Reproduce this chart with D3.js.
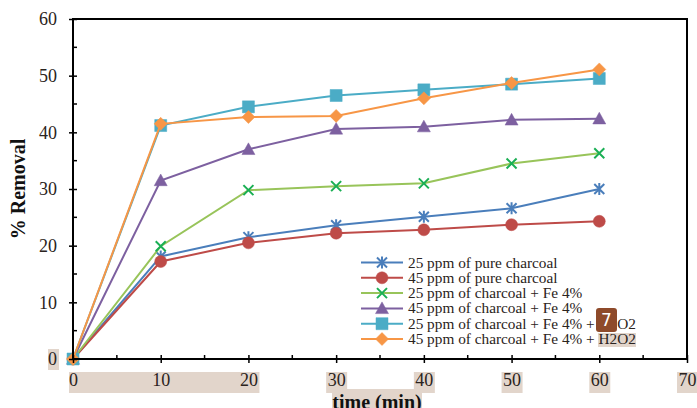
<!DOCTYPE html>
<html>
<head>
<meta charset="utf-8">
<script src="https://cdn.jsdelivr.net/npm/d3@7"></script>
<style>
  body { margin: 0; background: #fff; }
  svg { display: block; font-family: "Liberation Serif", "Times New Roman", serif; }
</style>
</head>
<body>
<svg id="chart" width="697" height="408"></svg>
<script>
// time points (min)
var times = [0, 10, 20, 30, 40, 50, 60];

// % removal
var pure25 = [0, 18.1, 21.5, 23.6, 25.1, 26.6, 30.0];
var pure45 = [0, 17.2, 20.5, 22.2, 22.8, 23.7, 24.3];
var fe25 = [0, 19.9, 29.8, 30.5, 31.0, 34.5, 36.3];
var fe45 = [0, 31.5, 37.0, 40.6, 41.0, 42.2, 42.4];
var feH25 = [0, 41.2, 44.5, 46.5, 47.5, 48.5, 49.5];
var feH45 = [0, 41.5, 42.7, 42.9, 46.0, 48.7, 51.1];

var seriesNames = [
  '25 ppm of pure charcoal',
  '45 ppm of pure charcoal',
  '25 ppm of charcoal + Fe 4%',
  '45 ppm of charcoal + Fe 4%',
  '25 ppm of charcoal + Fe 4% + H2O2',
  '45 ppm of charcoal + Fe 4% + H2O2'
];
var xTicks = [0, 10, 20, 30, 40, 50, 60, 70];
var yTicks = [0, 10, 20, 30, 40, 50, 60];

var lineColors = ['#4a7ebb', '#be4b48', '#98c45a', '#7d60a0', '#4bacc6', '#f79646'];
var markColors = ['#4a7ebb', '#be4b48', '#1aaf54', '#7d60a0', '#4bacc6', '#f79646'];
var markers = ['star', 'circle', 'x', 'triangle', 'square', 'diamond'];

var allValues = [pure25, pure45, fe25, fe45, feH25, feH45];
var series = seriesNames.map(function(name, i) {
  return {name: name, values: allValues[i], line: lineColors[i], mark: markColors[i], marker: markers[i]};
});

var svg = d3.select('#chart');
var plotL = 73, plotR = 687, plotT = 19, plotB = 359;

var x = d3.scaleLinear().domain([0, 70]).range([plotL, plotR]);
var y = d3.scaleLinear().domain([0, 60]).range([plotB, plotT]);

// highlight boxes seen behind some labels
var hl = '#e2d5cb';
function box(x0, y0, x1, y1) {
  svg.append('rect').attr('x', x0).attr('y', y0)
    .attr('width', x1 - x0).attr('height', y1 - y0).attr('fill', hl);
}
box(48, 349, 59, 370);
box(x(0) - 4, 372, x(20) + 11, 393);
[30, 40, 50, 60, 70].forEach(function(t) { box(x(t) - 10, 372, x(t) + 11, 393); });
box(332, 389, 422, 408);

function markerPath(type, s) {
  var h = s / 2;
  switch (type) {
  case 'circle':
    return d3.symbol().type(d3.symbolCircle).size(Math.PI * h * h)();
  case 'square':
    return 'M' + -h + ',' + -h + 'H' + h + 'V' + h + 'H' + -h + 'Z';
  case 'diamond':
    return 'M0,' + -h + 'L' + h + ',0L0,' + h + 'L' + -h + ',0Z';
  case 'triangle':
    return 'M0,' + (-h) + 'L' + h + ',' + (h * 0.8) + 'L' + -h + ',' + (h * 0.8) + 'Z';
  case 'x':
    return 'M' + -h + ',' + -h + 'L' + h + ',' + h + 'M' + h + ',' + -h + 'L' + -h + ',' + h;
  case 'star':
    return 'M' + -h + ',' + -h + 'L' + h + ',' + h + 'M' + h + ',' + -h + 'L' + -h + ',' + h +
      'M0,' + -h * 1.2 + 'V' + h * 1.2;
  }
}
var markerSize = {circle: 12, square: 12, diamond: 13, triangle: 13, x: 10, star: 10};

function drawMarker(g, type, color) {
  var p = g.append('path').attr('d', markerPath(type, markerSize[type]));
  if (type === 'x' || type === 'star') {
    p.attr('fill', 'none').attr('stroke', color).attr('stroke-width', 2);
  } else {
    p.attr('fill', color).attr('stroke', color).attr('stroke-width', 0.5);
  }
}

var line = d3.line()
  .x(function(d, i) { return x(times[i]); })
  .y(function(d) { return y(d); });

series.forEach(function(s) {
  svg.append('path')
    .attr('d', line(s.values))
    .attr('fill', 'none')
    .attr('stroke', s.line)
    .attr('stroke-width', 2);
  s.values.forEach(function(v, i) {
    var g = svg.append('g').attr('transform', 'translate(' + x(times[i]) + ',' + y(v) + ')');
    drawMarker(g, s.marker, s.mark);
  });
});

// axes
var xAxis = svg.append('g').attr('transform', 'translate(0,' + plotB + ')')
  .call(d3.axisBottom(x).tickValues(xTicks).tickSize(4).tickPadding(10));
var yAxis = svg.append('g').attr('transform', 'translate(' + plotL + ',0)')
  .call(d3.axisLeft(y).tickValues(yTicks).tickSize(4).tickPadding(12));

[xAxis, yAxis].forEach(function(a) {
  a.select('.domain').remove();
  a.selectAll('line').attr('stroke', '#000').attr('stroke-width', 1.5);
  a.selectAll('text').attr('font-size', 18).attr('fill', '#2a2320')
    .attr('font-family', '"Liberation Serif", serif');
});
// major ticks cross the axis, minor ticks inside
xAxis.selectAll('.tick line').attr('y1', -4).attr('y2', 4);
yAxis.selectAll('.tick line').attr('x1', -4).attr('x2', 4);
xAxis.selectAll('.tick text').attr('dy', '0.71em');

d3.range(5, 70, 10).forEach(function(t) {
  svg.append('line').attr('x1', x(t)).attr('x2', x(t))
    .attr('y1', plotB).attr('y2', plotB - 4)
    .attr('stroke', '#000').attr('stroke-width', 1.5);
});
d3.range(5, 60, 10).forEach(function(t) {
  svg.append('line').attr('x1', plotL).attr('x2', plotL + 4)
    .attr('y1', y(t)).attr('y2', y(t))
    .attr('stroke', '#000').attr('stroke-width', 1.5);
});

// frame
svg.append('rect').attr('x', plotL).attr('y', plotT)
  .attr('width', plotR - plotL).attr('height', plotB - plotT)
  .attr('fill', 'none').attr('stroke', '#000').attr('stroke-width', 2);

// axis titles
svg.append('text')
  .attr('transform', 'translate(25,' + (plotT + plotB) / 2 + ') rotate(-90)')
  .attr('text-anchor', 'middle')
  .attr('font-size', 20).attr('font-weight', 'bold').attr('fill', '#111')
  .text('% Removal');
svg.append('text')
  .attr('x', 377).attr('y', 409)
  .attr('text-anchor', 'middle')
  .attr('font-size', 20).attr('font-weight', 'bold').attr('fill', '#111')
  .text('time (min)');

// legend
box(598, 333, 636, 347);
var legend = svg.append('g');
series.forEach(function(s, i) {
  var ly = 262.5 + i * 15.3;
  legend.append('line').attr('x1', 361).attr('x2', 403)
    .attr('y1', ly).attr('y2', ly)
    .attr('stroke', s.line).attr('stroke-width', 2);
  var g = legend.append('g').attr('transform', 'translate(382,' + ly + ')');
  drawMarker(g, s.marker, s.mark);
  legend.append('text').attr('x', 408).attr('y', ly + 5)
    .attr('font-size', 15.3).attr('fill', '#2a2320')
    .text(s.name);
});

// badge
svg.append('rect').attr('x', 596).attr('y', 308).attr('width', 21).attr('height', 24)
  .attr('rx', 3).attr('fill', '#8e4a2a');
svg.append('text').attr('x', 606.5).attr('y', 326)
  .attr('text-anchor', 'middle').attr('font-size', 17)
  .attr('font-family', '"DejaVu Sans", sans-serif').attr('fill', '#fff')
  .text('7');
</script>
</body>
</html>
